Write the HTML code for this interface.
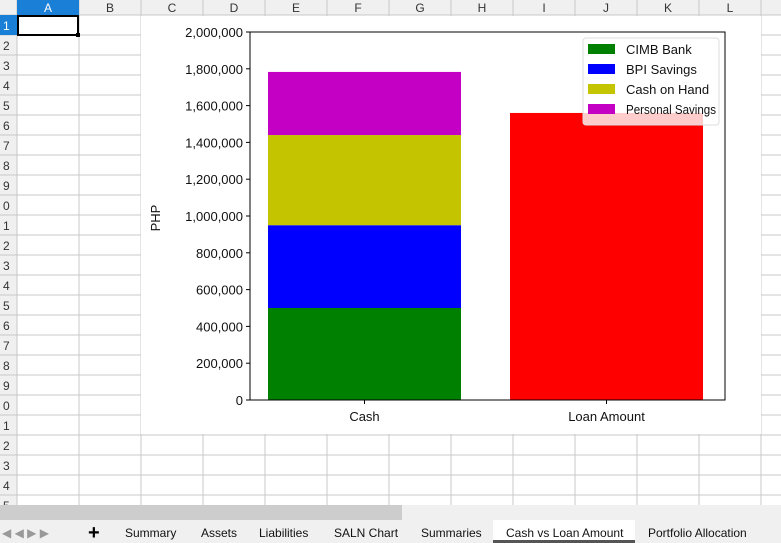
<!DOCTYPE html>
<html><head><meta charset="utf-8">
<style>
body{margin:0;width:781px;height:543px;overflow:hidden;background:#fff;font-family:"Liberation Sans",sans-serif;position:relative}
.abs{position:absolute}
</style></head><body>
<svg class="abs" style="left:0;top:0" width="781" height="543" id="grid"></svg>
<svg class="abs" style="left:0;top:0" width="781" height="543" id="chart"></svg>
<script>
const NS="http://www.w3.org/2000/svg";
function mk(p,t,a){const e=document.createElementNS(NS,t);for(const k in a)e.setAttribute(k,a[k]);p.appendChild(e);return e;}
const g=document.getElementById('grid');
const cols=['A','B','C','D','E','F','G','H','I','J','K','L'];
mk(g,'rect',{x:0,y:0,width:781,height:15,fill:'#f0f0f0'});
mk(g,'rect',{x:0,y:0,width:17,height:505,fill:'#f0f0f0'});
for(let i=0;i<=13;i++){const x=17+62*i;mk(g,'line',{x1:x,y1:0,x2:x,y2:505,stroke:'#c8c8c8'});}
for(let r=0;r<=25;r++){const y=15+20*r;mk(g,'line',{x1:0,y1:y,x2:781,y2:y,stroke:'#c8c8c8'});}
mk(g,'rect',{x:17,y:0,width:62,height:15,fill:'#1a7fd6'});
mk(g,'rect',{x:0,y:15,width:17,height:20,fill:'#1a7fd6'});
cols.forEach((c,i)=>{const t=mk(g,'text',{x:48+62*i,y:12,'font-size':12,'text-anchor':'middle',fill:i==0?'#fff':'#333'});t.textContent=c;

});
for(let r=1;r<=25;r++){const t=mk(g,'text',{x:3,y:15+20*r-5,'font-size':12,fill:r==1?'#fff':'#333'});t.textContent=(r%10);

}
const sel=mk(g,'rect',{x:18,y:16,width:60,height:19,fill:'none',stroke:'#000','stroke-width':2});


mk(g,'rect',{x:76,y:33,width:4,height:4,fill:'#000'});
mk(g,'rect',{x:0,y:505,width:781,height:15,fill:'#f0f0f0'});
const sb=mk(g,'rect',{x:0,y:505,width:402,height:15,fill:'#cdcdcd'});


mk(g,'rect',{x:0,y:520,width:781,height:23,fill:'#f0f0f0'});
const nav=mk(g,'text',{x:2,y:537,'font-size':12,fill:'#999'});nav.textContent='◀  ◀  ▶  ▶';


const plus=mk(g,'text',{x:88,y:539,'font-size':20,'font-weight':'bold',fill:'#000'});plus.textContent='+';


const tabs=[['Summary',125],['Assets',201],['Liabilities',259],['SALN Chart',334],['Summaries',421],['Cash vs Loan Amount',506],['Portfolio Allocation',648]];
mk(g,'rect',{x:493,y:520,width:142,height:23,fill:'#fff'});
mk(g,'rect',{x:493,y:540,width:142,height:3,fill:'#555'});
tabs.forEach(([n,x])=>{const t=mk(g,'text',{x:x,y:537,'font-size':12,fill:'#111'});t.textContent=n;

});

const categories=['Cash','Loan Amount'];
const seriesNames=['CIMB Bank','BPI Savings','Cash on Hand','Personal Savings'];
const seriesColors=['#008000','#0000ff','#c4c400','#c400c4'];
const cashValues=[500000,450000,490000,343000];
const loanValues=[1560000];
const yTicks=[0,200000,400000,600000,800000,1000000,1200000,1400000,1600000,1800000,2000000];
const c=document.getElementById('chart');
mk(c,'rect',{x:141,y:16,width:620,height:418,fill:'#fff'});
const X0=250,X1=725,Y0=400,Y1=32,YMAX=2000000;
const y=v=>Y0-(v/YMAX)*(Y0-Y1);
const bw=193;
const xl=i=>268+i*242;
let acc=0;
cashValues.forEach((v,i)=>{const r=mk(c,'rect',{x:xl(0),y:y(acc+v),width:bw,height:y(acc)-y(acc+v),fill:seriesColors[i]});

acc+=v;});
loanValues.forEach(v=>{const r=mk(c,'rect',{x:xl(1),y:y(v),width:bw,height:Y0-y(v),fill:'#ff0000'});

});
mk(c,'rect',{x:X0,y:Y1,width:X1-X0,height:Y0-Y1,fill:'none',stroke:'#000','stroke-width':1});
yTicks.forEach(v=>{mk(c,'line',{x1:X0-4,y1:y(v),x2:X0,y2:y(v),stroke:'#000'});
const t=mk(c,'text',{x:X0-7,y:y(v)+5,'font-size':13,'text-anchor':'end',fill:'#111'});t.textContent=v.toLocaleString('en-US');

});
categories.forEach((n,i)=>{const cx=xl(i)+bw/2;mk(c,'line',{x1:cx,y1:Y0,x2:cx,y2:Y0+4,stroke:'#000'});
const t=mk(c,'text',{x:cx,y:421,'font-size':13,'text-anchor':'middle',fill:'#111'});t.textContent=n;

});
const yt=mk(c,'text',{x:160,y:218,'font-size':13,'text-anchor':'middle',fill:'#111',transform:'rotate(-90 160 218)'});yt.textContent='PHP';


const lg=mk(c,'rect',{x:583,y:38,width:136,height:87,fill:'rgba(255,255,255,0.8)',stroke:'#ddd',rx:3});


seriesNames.forEach((n,i)=>{const ly=44+i*20;mk(c,'rect',{x:588,y:ly,width:27,height:10,fill:seriesColors[i]});
const t=mk(c,'text',{x:626,y:ly+10,'font-size':13,fill:'#111',textLength:i==3?90:null,lengthAdjust:'spacingAndGlyphs'});
if(i!=3)t.removeAttribute('textLength');
t.textContent=n;

});
</script>
</body></html>
